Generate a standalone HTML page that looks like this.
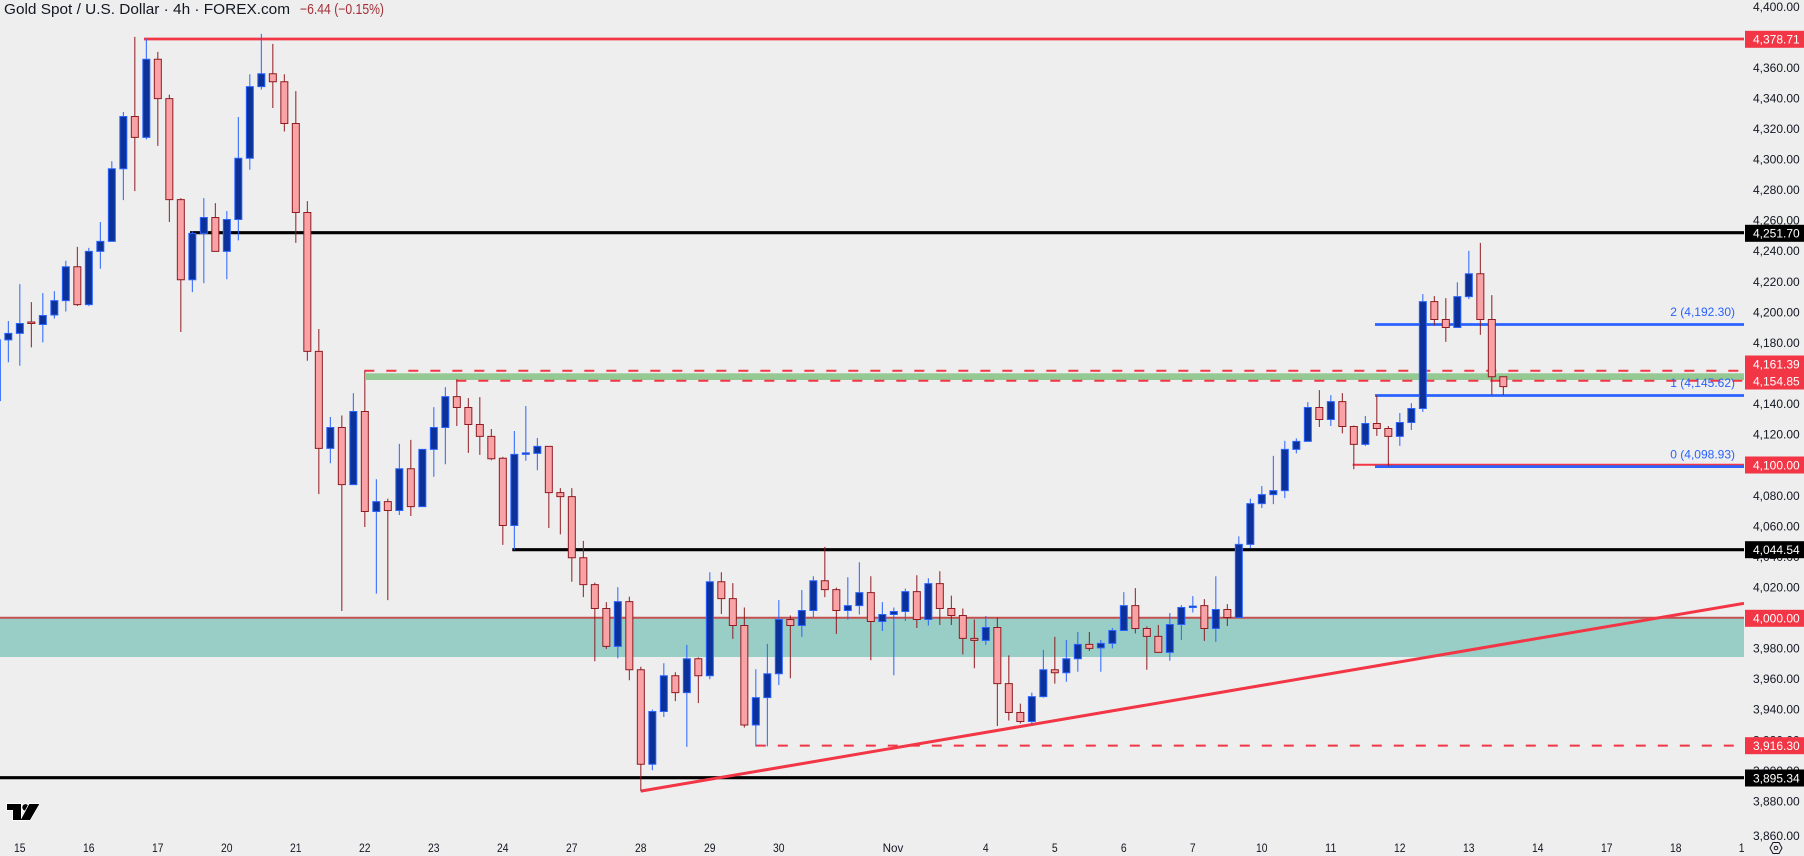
<!DOCTYPE html>
<html><head><meta charset="utf-8"><style>
html,body{margin:0;padding:0;background:#eeeeee;}
body{width:1804px;height:856px;overflow:hidden;}
svg{display:block;font-family:"Liberation Sans",sans-serif;}
.bw{stroke:#2962ff;stroke-width:1;fill:none;vector-effect:non-scaling-stroke;}
.rw{stroke:#8e1c22;stroke-width:1;fill:none;vector-effect:non-scaling-stroke;}
.bb rect{fill:#0c3299;stroke:#2962ff;stroke-width:1;vector-effect:non-scaling-stroke;}
.rb rect{fill:#f9a3a6;stroke:#8e1c22;stroke-width:1;vector-effect:non-scaling-stroke;}
.tk{font-size:12px;fill:#131722;}
.bx{font-size:12px;fill:#ffffff;}
.tl{font-size:12px;fill:#131722;}
</style></head><body>
<svg width="1804" height="856" viewBox="0 0 1804 856" xmlns="http://www.w3.org/2000/svg">
<defs><clipPath id="plot"><rect x="0" y="0" width="1744" height="830"/></clipPath></defs>
<rect x="0" y="0" width="1804" height="856" fill="#eeeeee"/>
<g clip-path="url(#plot)">
<rect x="0" y="618.5" width="1744" height="38.5" fill="#98cec6"/>
<line x1="0" y1="617.8" x2="1744" y2="617.8" stroke="#c4504f" stroke-width="2"/>
<rect x="366" y="373.3" width="1378" height="6.7" fill="#95c994"/>
<line x1="144" y1="39" x2="1744" y2="39" stroke="#f23645" stroke-width="2.7"/>
<line x1="190" y1="232.7" x2="1744" y2="232.7" stroke="#000" stroke-width="3.2"/>
<line x1="512.3" y1="549.7" x2="1744" y2="549.7" stroke="#000" stroke-width="3.2"/>
<line x1="0" y1="777.7" x2="1744" y2="777.7" stroke="#000" stroke-width="3.2"/>
<line x1="364.3" y1="370.8" x2="1744" y2="370.8" stroke="#f23645" stroke-width="2" stroke-dasharray="10 12"/>
<line x1="456.3" y1="380.7" x2="1744" y2="380.7" stroke="#f23645" stroke-width="2" stroke-dasharray="10 12"/>
<line x1="755.8" y1="745.6" x2="1744" y2="745.6" stroke="#f23645" stroke-width="2" stroke-dasharray="10 12"/>
<line x1="1352.7" y1="464.7" x2="1744" y2="464.7" stroke="#f23645" stroke-width="2"/>
<line x1="1375" y1="324.5" x2="1744" y2="324.5" stroke="#2962ff" stroke-width="2.7"/>
<line x1="1375" y1="395.5" x2="1744" y2="395.5" stroke="#2962ff" stroke-width="2.7"/>
<line x1="1375" y1="466.6" x2="1744" y2="466.6" stroke="#2962ff" stroke-width="2.7"/>
<line x1="640.7" y1="791.1" x2="1744" y2="603.3" stroke="#f23645" stroke-width="3"/>
<text x="1735" y="316" font-size="12" fill="#2962ff" text-anchor="end">2 (4,192.30)</text>
<text x="1735" y="387" font-size="12" fill="#2962ff" text-anchor="end">1 (4,145.62)</text>
<text x="1735" y="458.3" font-size="12" fill="#2962ff" text-anchor="end">0 (4,098.93)</text>
<g transform="translate(0,20) scale(1,0.497512)">
<path class="bw" d="M-3.17 643V765M8.33 605V688M19.83 531V695M42.83 549V648M54.33 545V600M65.83 484V586M88.83 458V575M100.33 406V500M111.83 284V445M123.33 185V362M146.33 38V240M192.33 425V547M203.83 358V529M226.83 384V521M238.33 195V443M249.83 109V301M261.33 28V140M330.33 798V891M353.33 750V934M376.33 923V1153M399.33 852V995M422.33 863V978M433.83 778V918M445.33 738V893M514.33 826V1065M525.83 776V886M537.33 840V905M617.83 1140V1283M652.33 1386V1508M663.83 1293V1401M686.83 1256V1461M709.83 1110V1325M755.83 1305V1460M767.33 1254V1460M778.83 1166V1337M801.83 1146V1240M813.33 1118V1200M847.83 1120V1205M859.33 1090V1195M882.33 1170V1228M893.83 1181V1317M905.33 1143V1208M928.33 1122V1217M985.83 1198V1256M1031.83 1352V1416M1043.33 1266V1362M1066.33 1246V1330M1077.83 1230V1310M1100.83 1246V1310M1112.33 1222V1263M1123.83 1150V1227M1169.83 1192V1288M1181.33 1176V1246M1192.83 1158V1191M1215.83 1118V1250M1238.83 1038V1201M1250.33 962V1062M1261.83 937V981M1273.33 876V973M1284.83 846V961M1296.33 841V871M1307.83 768V847M1330.83 754V816M1365.33 796V856M1399.83 790V856M1411.33 770V824M1422.83 551V788M1457.33 527V618M1468.83 464V561"/>
<path class="rw" d="M31.33 567V658M77.33 456V575M134.83 34V344M157.83 64V253M169.33 150V406M180.83 358V627M215.33 368V465M272.83 48V177M284.33 109V224M295.83 143V448M307.33 364V685M318.83 621V953M341.83 795V1188M364.83 705V1019M387.83 962V1166M410.83 844V997M456.83 722V816M468.33 760V870M479.83 758V874M491.33 822V885M502.83 878V1055M548.83 857V1021M560.33 941V1034M571.83 941V1129M583.33 1047V1160M594.83 1131V1289M606.33 1170V1264M629.33 1159V1327M640.83 1300V1550M675.33 1311V1369M698.33 1281V1373M721.33 1110V1194M732.83 1132V1244M744.33 1181V1422M790.33 1197V1323M824.83 1059V1160M836.33 1141V1234M870.83 1118V1287M916.83 1116V1222M939.83 1108V1216M951.33 1157V1216M962.83 1183V1275M974.33 1205V1303M997.33 1201V1419M1008.83 1277V1408M1020.33 1374V1414M1054.83 1240V1334M1089.33 1230V1268M1135.33 1142V1233M1146.83 1219V1306M1158.33 1216V1271M1204.33 1164V1248M1227.33 1174V1218M1319.33 744V818M1342.33 750V831M1353.83 815V903M1376.83 754V836M1388.33 816V897M1434.33 555V614M1445.83 559V647M1480.33 448V633M1491.83 553V754M1503.33 717V754"/>
<g class="bb">
<rect x="-6.67" y="643" width="7" height="122"/>
<rect x="4.83" y="630" width="7" height="13"/>
<rect x="16.33" y="610" width="7" height="20"/>
<rect x="39.33" y="594" width="7" height="18"/>
<rect x="50.83" y="564" width="7" height="29"/>
<rect x="62.33" y="496" width="7" height="68"/>
<rect x="85.33" y="465" width="7" height="107"/>
<rect x="96.83" y="445" width="7" height="20"/>
<rect x="108.33" y="299" width="7" height="146"/>
<rect x="119.83" y="194" width="7" height="105"/>
<rect x="142.83" y="79" width="7" height="157"/>
<rect x="188.83" y="429" width="7" height="93"/>
<rect x="200.33" y="397" width="7" height="32"/>
<rect x="223.33" y="401" width="7" height="64"/>
<rect x="234.83" y="278" width="7" height="123"/>
<rect x="246.33" y="134" width="7" height="144"/>
<rect x="257.83" y="108" width="7" height="26"/>
<rect x="326.83" y="819" width="7" height="42"/>
<rect x="349.83" y="787" width="7" height="147"/>
<rect x="372.83" y="968" width="7" height="20"/>
<rect x="395.83" y="902" width="7" height="84"/>
<rect x="418.83" y="863" width="7" height="115"/>
<rect x="430.33" y="819" width="7" height="44"/>
<rect x="441.83" y="757" width="7" height="62"/>
<rect x="510.83" y="873" width="7" height="143"/>
<rect x="522.33" y="870" width="7" height="3"/>
<rect x="533.83" y="857" width="7" height="14"/>
<rect x="614.33" y="1169" width="7" height="90"/>
<rect x="648.83" y="1390" width="7" height="106"/>
<rect x="660.33" y="1318" width="7" height="72"/>
<rect x="683.33" y="1284" width="7" height="68"/>
<rect x="706.33" y="1129" width="7" height="189"/>
<rect x="752.33" y="1362" width="7" height="55"/>
<rect x="763.83" y="1314" width="7" height="48"/>
<rect x="775.33" y="1205" width="7" height="109"/>
<rect x="798.33" y="1187" width="7" height="30"/>
<rect x="809.83" y="1127" width="7" height="60"/>
<rect x="844.33" y="1177" width="7" height="10"/>
<rect x="855.83" y="1151" width="7" height="26"/>
<rect x="878.83" y="1195" width="7" height="14"/>
<rect x="890.33" y="1189" width="7" height="6"/>
<rect x="901.83" y="1149" width="7" height="40"/>
<rect x="924.83" y="1133" width="7" height="72"/>
<rect x="982.33" y="1221" width="7" height="26"/>
<rect x="1028.33" y="1360" width="7" height="50"/>
<rect x="1039.83" y="1306" width="7" height="54"/>
<rect x="1062.83" y="1284" width="7" height="28"/>
<rect x="1074.33" y="1255" width="7" height="29"/>
<rect x="1097.33" y="1253" width="7" height="9"/>
<rect x="1108.83" y="1227" width="7" height="26"/>
<rect x="1120.33" y="1177" width="7" height="50"/>
<rect x="1166.33" y="1215" width="7" height="56"/>
<rect x="1177.83" y="1181" width="7" height="34"/>
<rect x="1189.33" y="1178" width="7" height="3"/>
<rect x="1212.33" y="1185" width="7" height="38"/>
<rect x="1235.33" y="1054" width="7" height="147"/>
<rect x="1246.83" y="972" width="7" height="82"/>
<rect x="1258.33" y="954" width="7" height="18"/>
<rect x="1269.83" y="946" width="7" height="8"/>
<rect x="1281.33" y="863" width="7" height="83"/>
<rect x="1292.83" y="847" width="7" height="16"/>
<rect x="1304.33" y="779" width="7" height="68"/>
<rect x="1327.33" y="767" width="7" height="36"/>
<rect x="1361.83" y="811" width="7" height="42"/>
<rect x="1396.33" y="809" width="7" height="28"/>
<rect x="1407.83" y="781" width="7" height="28"/>
<rect x="1419.33" y="566" width="7" height="215"/>
<rect x="1453.83" y="556" width="7" height="62"/>
<rect x="1465.33" y="510" width="7" height="46"/>
</g>
<g class="rb">
<rect x="27.83" y="607" width="7" height="3"/>
<rect x="73.83" y="496" width="7" height="76"/>
<rect x="131.33" y="194" width="7" height="42"/>
<rect x="154.33" y="79" width="7" height="79"/>
<rect x="165.83" y="158" width="7" height="203"/>
<rect x="177.33" y="361" width="7" height="161"/>
<rect x="211.83" y="397" width="7" height="68"/>
<rect x="269.33" y="108" width="7" height="16"/>
<rect x="280.83" y="124" width="7" height="84"/>
<rect x="292.33" y="208" width="7" height="179"/>
<rect x="303.83" y="387" width="7" height="279"/>
<rect x="315.33" y="666" width="7" height="195"/>
<rect x="338.33" y="819" width="7" height="115"/>
<rect x="361.33" y="787" width="7" height="201"/>
<rect x="384.33" y="968" width="7" height="18"/>
<rect x="407.33" y="902" width="7" height="76"/>
<rect x="453.33" y="757" width="7" height="22"/>
<rect x="464.83" y="779" width="7" height="34"/>
<rect x="476.33" y="813" width="7" height="24"/>
<rect x="487.83" y="837" width="7" height="45"/>
<rect x="499.33" y="881" width="7" height="135"/>
<rect x="545.33" y="857" width="7" height="93"/>
<rect x="556.83" y="950" width="7" height="8"/>
<rect x="568.33" y="958" width="7" height="123"/>
<rect x="579.83" y="1081" width="7" height="54"/>
<rect x="591.33" y="1135" width="7" height="48"/>
<rect x="602.83" y="1183" width="7" height="76"/>
<rect x="625.83" y="1169" width="7" height="137"/>
<rect x="637.33" y="1306" width="7" height="190"/>
<rect x="671.83" y="1318" width="7" height="34"/>
<rect x="694.83" y="1284" width="7" height="34"/>
<rect x="717.83" y="1129" width="7" height="34"/>
<rect x="729.33" y="1163" width="7" height="54"/>
<rect x="740.83" y="1217" width="7" height="200"/>
<rect x="786.83" y="1205" width="7" height="12"/>
<rect x="821.33" y="1127" width="7" height="18"/>
<rect x="832.83" y="1145" width="7" height="42"/>
<rect x="867.33" y="1151" width="7" height="58"/>
<rect x="913.33" y="1149" width="7" height="56"/>
<rect x="936.33" y="1133" width="7" height="50"/>
<rect x="947.83" y="1183" width="7" height="14"/>
<rect x="959.33" y="1197" width="7" height="46"/>
<rect x="970.83" y="1243" width="7" height="4"/>
<rect x="993.83" y="1221" width="7" height="113"/>
<rect x="1005.33" y="1334" width="7" height="58"/>
<rect x="1016.83" y="1392" width="7" height="18"/>
<rect x="1051.33" y="1306" width="7" height="6"/>
<rect x="1085.83" y="1255" width="7" height="8"/>
<rect x="1131.83" y="1177" width="7" height="46"/>
<rect x="1143.33" y="1223" width="7" height="16"/>
<rect x="1154.83" y="1239" width="7" height="32"/>
<rect x="1200.83" y="1177" width="7" height="46"/>
<rect x="1223.83" y="1185" width="7" height="16"/>
<rect x="1315.83" y="779" width="7" height="24"/>
<rect x="1338.83" y="767" width="7" height="50"/>
<rect x="1350.33" y="817" width="7" height="36"/>
<rect x="1373.33" y="811" width="7" height="10"/>
<rect x="1384.83" y="821" width="7" height="16"/>
<rect x="1430.83" y="566" width="7" height="36"/>
<rect x="1442.33" y="602" width="7" height="16"/>
<rect x="1476.83" y="510" width="7" height="92"/>
<rect x="1488.33" y="602" width="7" height="115"/>
<rect x="1499.83" y="717" width="7" height="20"/>
</g>
</g>
</g>
<text x="4" y="14" font-size="14.5" fill="#131722" textLength="286" lengthAdjust="spacingAndGlyphs">Gold Spot / U.S. Dollar · 4h · FOREX.com</text>
<text x="300" y="14" font-size="14.5" fill="#a12f35" textLength="84" lengthAdjust="spacingAndGlyphs">−6.44 (−0.15%)</text>
<g class="tk">
<text x="1753" y="10.8">4,400.00</text>
<text x="1753" y="71.9">4,360.00</text>
<text x="1753" y="102.4">4,340.00</text>
<text x="1753" y="133">4,320.00</text>
<text x="1753" y="163.5">4,300.00</text>
<text x="1753" y="194.1">4,280.00</text>
<text x="1753" y="224.7">4,260.00</text>
<text x="1753" y="255.2">4,240.00</text>
<text x="1753" y="285.8">4,220.00</text>
<text x="1753" y="316.4">4,200.00</text>
<text x="1753" y="346.9">4,180.00</text>
<text x="1753" y="408.1">4,140.00</text>
<text x="1753" y="438.6">4,120.00</text>
<text x="1753" y="499.8">4,080.00</text>
<text x="1753" y="530.3">4,060.00</text>
<text x="1753" y="560.9">4,040.00</text>
<text x="1753" y="591.5">4,020.00</text>
<text x="1753" y="652.6">3,980.00</text>
<text x="1753" y="683.2">3,960.00</text>
<text x="1753" y="713.7">3,940.00</text>
<text x="1753" y="744.3">3,920.00</text>
<text x="1753" y="774.9">3,900.00</text>
<text x="1753" y="805.4">3,880.00</text>
<text x="1753" y="840">3,860.00</text>
</g>
<rect x="1745" y="30.8" width="59" height="17" fill="#f23645"/>
<text class="bx" x="1753" y="43.6">4,378.71</text>
<rect x="1745" y="224.8" width="59" height="17" fill="#000"/>
<text class="bx" x="1753" y="237.6">4,251.70</text>
<rect x="1745" y="355.5" width="59" height="17" fill="#f23645"/>
<text class="bx" x="1753" y="368.3">4,161.39</text>
<rect x="1745" y="372.5" width="59" height="17" fill="#f23645"/>
<text class="bx" x="1753" y="385.3">4,154.85</text>
<rect x="1745" y="456.5" width="59" height="17" fill="#f23645"/>
<text class="bx" x="1753" y="469.3">4,100.00</text>
<rect x="1745" y="541.2" width="59" height="17" fill="#000"/>
<text class="bx" x="1753" y="554">4,044.54</text>
<rect x="1745" y="609.8" width="59" height="17" fill="#f23645"/>
<text class="bx" x="1753" y="622.6">4,000.00</text>
<rect x="1745" y="737.2" width="59" height="17" fill="#f23645"/>
<text class="bx" x="1753" y="750">3,916.30</text>
<rect x="1745" y="769.5" width="59" height="17" fill="#000"/>
<text class="bx" x="1753" y="782.3">3,895.34</text>
<g class="tl" text-anchor="middle">
<text x="19.8" y="852" textLength="11.5" lengthAdjust="spacingAndGlyphs">15</text>
<text x="88.8" y="852" textLength="11.5" lengthAdjust="spacingAndGlyphs">16</text>
<text x="157.8" y="852" textLength="11.5" lengthAdjust="spacingAndGlyphs">17</text>
<text x="226.8" y="852" textLength="11.5" lengthAdjust="spacingAndGlyphs">20</text>
<text x="295.8" y="852" textLength="11.5" lengthAdjust="spacingAndGlyphs">21</text>
<text x="364.8" y="852" textLength="11.5" lengthAdjust="spacingAndGlyphs">22</text>
<text x="433.8" y="852" textLength="11.5" lengthAdjust="spacingAndGlyphs">23</text>
<text x="502.8" y="852" textLength="11.5" lengthAdjust="spacingAndGlyphs">24</text>
<text x="571.8" y="852" textLength="11.5" lengthAdjust="spacingAndGlyphs">27</text>
<text x="640.8" y="852" textLength="11.5" lengthAdjust="spacingAndGlyphs">28</text>
<text x="709.8" y="852" textLength="11.5" lengthAdjust="spacingAndGlyphs">29</text>
<text x="778.8" y="852" textLength="11.5" lengthAdjust="spacingAndGlyphs">30</text>
<text x="893" y="852" textLength="20.7" lengthAdjust="spacingAndGlyphs">Nov</text>
<text x="985.8" y="852" textLength="5.8" lengthAdjust="spacingAndGlyphs">4</text>
<text x="1054.8" y="852" textLength="5.8" lengthAdjust="spacingAndGlyphs">5</text>
<text x="1123.8" y="852" textLength="5.8" lengthAdjust="spacingAndGlyphs">6</text>
<text x="1192.8" y="852" textLength="5.8" lengthAdjust="spacingAndGlyphs">7</text>
<text x="1261.8" y="852" textLength="11.5" lengthAdjust="spacingAndGlyphs">10</text>
<text x="1330.8" y="852" textLength="11.5" lengthAdjust="spacingAndGlyphs">11</text>
<text x="1399.8" y="852" textLength="11.5" lengthAdjust="spacingAndGlyphs">12</text>
<text x="1468.8" y="852" textLength="11.5" lengthAdjust="spacingAndGlyphs">13</text>
<text x="1537.8" y="852" textLength="11.5" lengthAdjust="spacingAndGlyphs">14</text>
<text x="1606.8" y="852" textLength="11.5" lengthAdjust="spacingAndGlyphs">17</text>
<text x="1675.8" y="852" textLength="11.5" lengthAdjust="spacingAndGlyphs">18</text>
<text x="1741.7" y="852" textLength="5.8" lengthAdjust="spacingAndGlyphs">1</text>
</g>
<polygon points="1770,848 1773,842.5 1779,842.5 1782,848 1779,853.5 1773,853.5" fill="none" stroke="#131722" stroke-width="1"/>
<circle cx="1776" cy="848" r="1.8" fill="none" stroke="#131722" stroke-width="1"/>
<g stroke="#ffffff" stroke-width="1.5" paint-order="stroke" fill="#000">
<rect x="7" y="804" width="14" height="6"/>
<rect x="13" y="804" width="8" height="16"/>
<circle cx="25.5" cy="807.3" r="3.2"/>
<polygon points="29.3,804 39.3,804 30,820 20.7,820"/>
</g>
<rect x="7" y="804" width="14" height="6" fill="#000"/>
<rect x="13" y="804" width="8" height="16" fill="#000"/>
</svg>
</body></html>
